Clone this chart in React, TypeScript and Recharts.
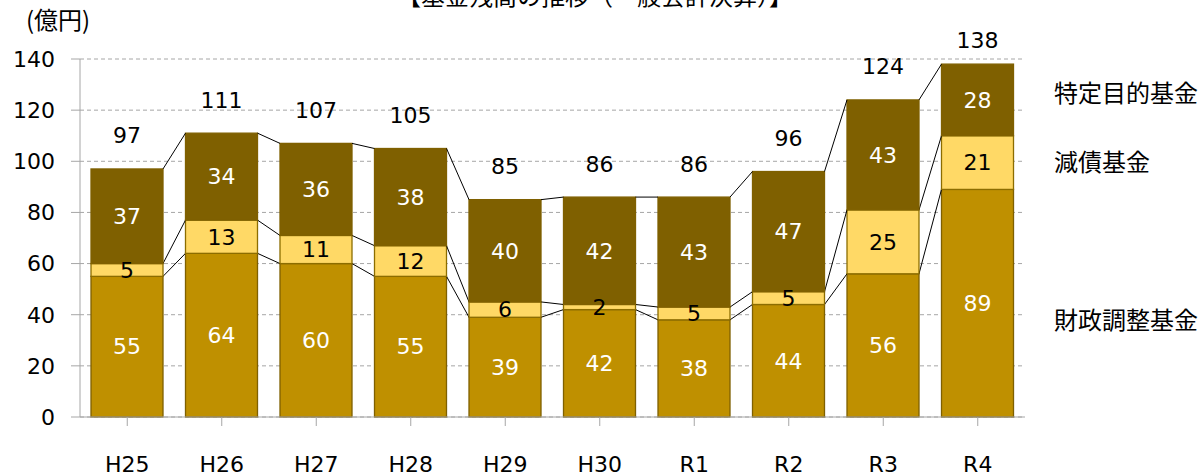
import React from "react";
import { BarChart, Bar, XAxis, YAxis, CartesianGrid, LabelList } from "recharts";

const years = ["H25", "H26", "H27", "H28", "H29", "H30", "R1", "R2", "R3", "R4"];
const fiscalAdjustment = [55, 64, 60, 55, 39, 42, 38, 44, 56, 89];
const debtReduction = [5, 13, 11, 12, 6, 2, 5, 5, 25, 21];
const specificPurpose = [37, 34, 36, 38, 40, 42, 43, 47, 43, 28];
const totals = [97, 111, 107, 105, 85, 86, 86, 96, 124, 138];
const yTicks = [0, 20, 40, 60, 80, 100, 120, 140];

const seriesNames = ["特定目的基金", "減債基金", "財政調整基金"];

const data = years.map((year, i) => ({
  year,
  fiscal: fiscalAdjustment[i],
  debt: debtReduction[i],
  purpose: specificPurpose[i],
  total: totals[i],
}));

const NUM_FONT = "'DejaVu Sans', sans-serif";
const JP_FONT = "'Noto Sans CJK JP', sans-serif";

// each segment draws its own rect plus the series line back to the previous bar
const makeShape = (fill: string, stroke: string) => {
  const seen: Record<number, { x: number; y: number; w: number }> = {};
  return (props: any) => {
    const { x, y, width, height, payload } = props;
    const idx = years.indexOf(payload.year);
    seen[idx] = { x, y, w: width };
    const p = idx > 0 ? seen[idx - 1] : undefined;
    return (
      <g>
        <rect x={x} y={y} width={width} height={height} fill={fill} stroke={stroke} strokeWidth={1.3} />
        {p && <line x1={p.x + p.w} y1={p.y} x2={x} y2={y} stroke="#000" strokeWidth={1} />}
      </g>
    );
  };
};

const fiscalShape = makeShape("#BF9000", "#7F6000");
const debtShape = makeShape("#FFD966", "#8C6D00");
const purposeShape = makeShape("#7F6000", "#7F6000");

const TotalLabel = (props: any) => {
  const { x, y, width, value } = props;
  return (
    <text
      x={x + width / 2}
      y={Math.max(y - 33, 40)}
      textAnchor="middle"
      dominantBaseline="central"
      fontSize={22}
      fontFamily={NUM_FONT}
      fill="#000"
    >
      {value}
    </text>
  );
};

const labelStyle = { fontSize: 22, fontFamily: NUM_FONT };

export default function App() {
  return (
    <div
      style={{
        position: "absolute",
        left: 0,
        top: 0,
        width: 1200,
        height: 476,
        overflow: "hidden",
        background: "#fff",
        fontFamily: JP_FONT,
      }}
    >
      <div
        style={{
          position: "absolute",
          left: 0,
          top: -17,
          width: 1190,
          textAlign: "center",
          fontSize: 24,
          lineHeight: "24px",
          color: "#000",
        }}
      >
        【基金残高の推移（一般会計決算）】
      </div>
      <div style={{ position: "absolute", left: 26, top: 7, fontSize: 24, lineHeight: "24px" }}>(億円)</div>
      <BarChart
        width={1200}
        height={476}
        data={data}
        margin={{ top: 59, right: 175, bottom: 0, left: 0 }}
        barSize={72}
      >
        <CartesianGrid vertical={false} stroke="#A6A6A6" strokeDasharray="4 3" />
        <XAxis
          dataKey="year"
          height={59}
          tickSize={9}
          tickMargin={30}
          axisLine={{ stroke: "#A6A6A6" }}
          tickLine={{ stroke: "#A6A6A6" }}
          tick={{ fill: "#000", fontSize: 22, fontFamily: NUM_FONT }}
        />
        <YAxis
          domain={[0, 140]}
          ticks={yTicks}
          width={80}
          tickSize={9}
          tickMargin={16}
          axisLine={{ stroke: "#A6A6A6" }}
          tickLine={{ stroke: "#A6A6A6" }}
          tick={{ fill: "#000", fontSize: 22, fontFamily: NUM_FONT }}
        />
        <Bar dataKey="fiscal" stackId="a" shape={fiscalShape} isAnimationActive={false}>
          <LabelList dataKey="fiscal" position="center" fill="#fff" {...labelStyle} />
        </Bar>
        <Bar dataKey="debt" stackId="a" shape={debtShape} isAnimationActive={false}>
          <LabelList dataKey="debt" position="center" fill="#000" {...labelStyle} />
        </Bar>
        <Bar dataKey="purpose" stackId="a" shape={purposeShape} isAnimationActive={false}>
          <LabelList dataKey="purpose" position="center" fill="#fff" {...labelStyle} />
          <LabelList dataKey="total" content={TotalLabel} />
        </Bar>
      </BarChart>
      {[
        { name: seriesNames[0], top: 80 },
        { name: seriesNames[1], top: 149 },
        { name: seriesNames[2], top: 307 },
      ].map((l) => (
        <div
          key={l.name}
          style={{ position: "absolute", left: 1054, top: l.top, fontSize: 24, lineHeight: "24px", color: "#000" }}
        >
          {l.name}
        </div>
      ))}
    </div>
  );
}
